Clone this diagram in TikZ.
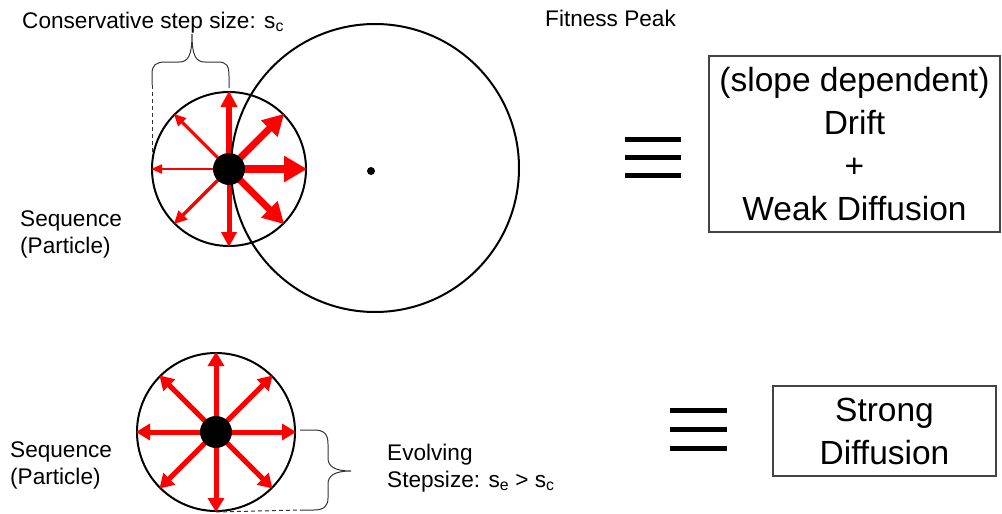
\documentclass[tikz,border=0pt]{standalone}
\usepackage{fontspec}
\setmainfont{Liberation Sans}
\usetikzlibrary{arrows.meta}
\definecolor{driftred}{RGB}{255, 0, 0}
\definecolor{boxgray}{RGB}{68, 68, 68}

\begin{document}
\begin{tikzpicture}[
  x=1pt, y=-1pt,
  seqcircle/.style={
    draw=black, line width=2pt,
    circle, inner sep=0pt
  },
  particle/.style={circle, fill=black, inner sep=0pt, minimum size=32pt},
  smalltext/.style={inner sep=0pt, font=\fontsize{22.6}{27}\selectfont},
  bigbox/.style={
    draw=boxgray, line width=1.2pt,
    inner sep=0pt, align=center,
    font=\fontsize{33.5}{43}\selectfont
  },
  eqbar/.style={line width=5pt},
  bracepath/.style={draw=black!80, line width=1pt},
  guide/.style={draw=black!80, line width=1pt, dash pattern=on 4pt off 3pt},
  stepline/.style={draw=driftred}
]
\useasboundingbox (0,0) rectangle (1002,514);

% --- drift case (top) ---
\node[seqcircle, minimum size=154pt] (seq1) at (229,169) {};
\foreach \ang/\lw/\hl/\hw in {0/8/23/25, 45/7/21/22, 90/6/16/16, 135/3/12/11,
                               180/2/11/9, 225/3.5/13/12, 270/5/15/15, 315/7/21/22}
  \draw[stepline, line width=\lw pt, -{Triangle[length=\hl pt, width=\hw pt]}]
    (seq1.center) -- (seq1.\ang);
\node[seqcircle, minimum size=288pt] (peakzone) at (375,168) {};
\node[circle, fill=black, inner sep=0pt, minimum size=8pt] (peak) at (371,171) {};
\node[particle] (dot1) at (seq1.center) {};

\coordinate (bra1) at (152,85);
\draw[bracepath] (bra1) -- (152,74) .. controls (152,65) and (156,62) .. (165,62)
  -- (179,62) .. controls (188,62) and (192,56) .. (192,34)
  .. controls (192,56) and (196,62) .. (205,62)
  -- (218,62) .. controls (227,62) and (229,66) .. (229,76) -- (229,88);
\draw[guide] (bra1) -- (152,152);

\node[smalltext, anchor=base west] (steplbl) at (22,28) {Conservative step size: s\textsubscript{c}};
\node[smalltext, anchor=base west] (peaklbl) at (545,26) {Fitness Peak};
\node[smalltext, anchor=north west, align=left] (seqlbl1) at (20,211) {Sequence\\(Particle)};

\foreach \yy in {139,157,175}
  \draw[eqbar] (625,\yy) -- (681,\yy);
\node[bigbox, minimum width=291pt, minimum height=176pt] (driftbox) at (854.5,144)
  {(slope dependent)\\Drift\\+\\Weak Diffusion};

% --- diffusion case (bottom) ---
\node[seqcircle, minimum size=158pt] (seq2) at (216,432) {};
\foreach \ang in {0,45,...,315}
  \draw[stepline, line width=5pt, -{Triangle[length=14pt, width=16pt]}]
    (seq2.center) -- (seq2.\ang);
\node[particle] (dot2) at (seq2.center) {};

\coordinate (bra2) at (300,510);
\draw[bracepath] (300,430) -- (314,430) .. controls (324,430) and (328,434) .. (328,444)
  -- (328,458) .. controls (328,466) and (334,471) .. (351,471)
  .. controls (334,471) and (328,476) .. (328,484)
  -- (328,498) .. controls (328,506) and (324,510) .. (314,510) -- (bra2);
\draw[guide] (seq2.south) -- (bra2);

\node[smalltext, anchor=north west, align=left] (seqlbl2) at (10,442) {Sequence\\(Particle)};
\node[smalltext, anchor=north west, align=left] (evolbl) at (387,444)
  {Evolving\\Stepsize: s\textsubscript{e} > s\textsubscript{c}};

\foreach \yy in {410,429,448}
  \draw[eqbar] (670,\yy) -- (727,\yy);
\node[bigbox, minimum width=223pt, minimum height=90pt] (diffbox) at (884.5,431)
  {Strong\\Diffusion};
\end{tikzpicture}
\end{document}
